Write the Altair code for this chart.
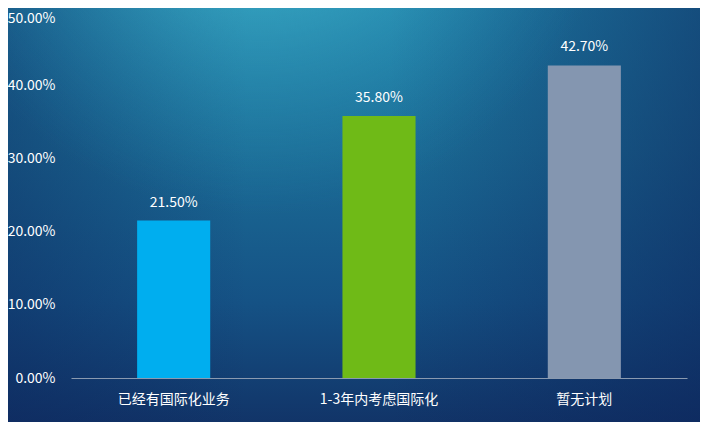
import altair as alt
import pandas as pd

categories = ["已经有国际化业务", "1-3年内考虑国际化", "暂无计划"]
values = [0.215, 0.358, 0.427]
colors = ["#00AEEF", "#6FBA17", "#8496B0"]

df = pd.DataFrame({"cat": categories, "val": values, "color": colors})

FONT = "Noto Sans CJK SC"
W, H = 616, 366
PL, PT = 63, 4
TW, TH = 692, 414


def full_rect(grad):
    return alt.Chart(pd.DataFrame({"a": [0]})).mark_rect(fill=grad).encode(
        x=alt.value(-PL - 10), x2=alt.value(TW - PL + 10),
        y=alt.value(-PT - 10), y2=alt.value(TH - PT + 10),
    )


bg = full_rect(alt.Gradient(
    gradient="linear", x1=0, y1=0, x2=0, y2=1,
    stops=[
        alt.GradientStop(offset=0, color="#1f7ea6"),
        alt.GradientStop(offset=0.35, color="#1b6c96"),
        alt.GradientStop(offset=0.7, color="#155285"),
        alt.GradientStop(offset=1, color="#113266"),
    ],
))

side = full_rect(alt.Gradient(
    gradient="linear", x1=0, y1=0, x2=1, y2=0,
    stops=[
        alt.GradientStop(offset=0, color="rgba(12,35,90,0.45)"),
        alt.GradientStop(offset=0.35, color="rgba(12,35,90,0)"),
        alt.GradientStop(offset=0.55, color="rgba(12,35,90,0)"),
        alt.GradientStop(offset=1, color="rgba(12,35,90,0.55)"),
    ],
))

glow = full_rect(alt.Gradient(
    gradient="radial", x1=0.37, y1=0.0, x2=0.37, y2=0.0, r1=0, r2=0.5,
    stops=[
        alt.GradientStop(offset=0, color="rgba(130,240,240,0.9)"),
        alt.GradientStop(offset=0.3, color="rgba(80,205,220,0.5)"),
        alt.GradientStop(offset=1, color="rgba(40,150,190,0)"),
    ],
))

xenc = alt.X("cat:N", sort=categories, title=None,
             scale=alt.Scale(paddingInner=0.644, paddingOuter=0.322),
             axis=alt.Axis(labelAngle=0, labelColor="white", labelFontSize=14, labelFont=FONT,
                           ticks=False, domainColor="#8a9ab0", domainWidth=1, labelPadding=14,
                           zindex=2))
yenc = alt.Y("val:Q", title=None, scale=alt.Scale(domain=[0, 0.5]),
             axis=alt.Axis(format=".2%", values=[0, 0.1, 0.2, 0.3, 0.4, 0.5], labelColor="white",
                           labelFontSize=14, labelFont=FONT, ticks=False, domain=False, grid=False,
                           labelPadding=16, zindex=2,
                           labelOffset={"condition": {"test": "datum.value >= 0.5", "value": 6},
                                        "value": 0}))

bars = alt.Chart(df).mark_bar().encode(
    x=xenc, y=yenc, color=alt.Color("color:N", scale=None)
)
labels = alt.Chart(df).mark_text(dy=-18, color="white", fontSize=14, font=FONT).encode(
    x=alt.X("cat:N", sort=categories), y="val:Q", text=alt.Text("val:Q", format=".2%")
)

chart = alt.layer(bg, side, glow, bars, labels).properties(
    width=W, height=H, autosize="none",
    padding={"left": PL, "top": PT, "right": TW - PL - W, "bottom": TH - PT - H},
    background="#134470",
).configure_view(stroke=None)

chart.save("out.html", embed_options={"renderer": "svg", "actions": False})
